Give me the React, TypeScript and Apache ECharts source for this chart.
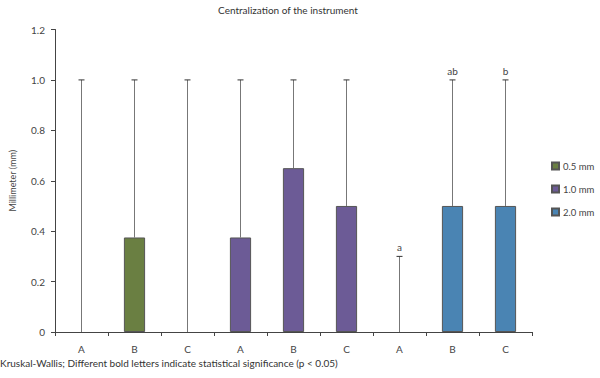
import React, { useEffect, useRef } from "react";
import * as echarts from "echarts";

// Category labels along the x axis (three instruments per group)
const categories = ["A", "B", "C", "A", "B", "C", "A", "B", "C"];

// Median values per group (null where the group does not apply or the median is zero)
const series05 = [null, 0.375, null, null, null, null, null, null, null];
const series10 = [null, null, null, 0.375, 0.65, 0.5, null, null, null];
const series20 = [null, null, null, null, null, null, null, 0.5, 0.5];

// Upper whisker for each category
const upperValues = [1.0, 1.0, 1.0, 1.0, 1.0, 1.0, 0.3, 1.0, 1.0];

// Significance letters above whiskers
const sigLetters = ["", "", "", "", "", "", "a", "ab", "b"];

const seriesNames = ["0.5 mm", "1.0 mm", "2.0 mm"];
const seriesColors = ["#6a7f42", "#6c5b96", "#4a84b3"];

const FONT = "Lato";

export default function App() {
  const ref = useRef<HTMLDivElement>(null);

  useEffect(() => {
    document.body.style.margin = "0";
    if (!ref.current) return;
    const chart = echarts.init(ref.current, undefined, { renderer: "svg" });

    const baseValues = categories.map((_, i) => {
      const v = series05[i] ?? series10[i] ?? series20[i];
      return v ?? 0;
    });

    const whiskerData = categories.map((_, i) => [i, baseValues[i], upperValues[i]]);

    const barSeries = [series05, series10, series20].map((d, k) => ({
      name: seriesNames[k],
      type: "bar",
      stack: "all",
      barWidth: "40%",
      data: d,
      itemStyle: { color: seriesColors[k], borderColor: "#555", borderWidth: 1 },
      z: 3,
    }));

    const option = {
      animation: false,
      textStyle: { fontFamily: FONT },
      title: {
        text: "Centralization of the instrument",
        left: 283,
        textAlign: "center",
        top: 0,
        textStyle: { fontSize: 10, fontWeight: "normal", color: "#333", fontFamily: FONT },
      },
      legend: {
        orient: "vertical",
        left: 551,
        top: 161,
        itemWidth: 7,
        itemHeight: 7,
        itemGap: 13,
        icon: "rect",
        padding: 0,
        data: seriesNames,
        textStyle: { fontSize: 9.5, color: "#444", fontFamily: FONT, padding: [0, 0, 0, -1] },
      },
      grid: { left: 45, right: 68, top: 29.5, bottom: 46 },
      xAxis: {
        type: "category",
        data: categories,
        boundaryGap: true,
        axisLine: { lineStyle: { color: "#444", width: 1 } },
        axisTick: { show: true, interval: 0, length: 4, lineStyle: { color: "#444" } },
        axisLabel: { color: "#444", fontSize: 10, margin: 12, fontFamily: FONT },
      },
      yAxis: {
        type: "value",
        min: 0,
        max: 1.2,
        interval: 0.2,
        name: "Millimeter (mm)",
        nameLocation: "middle",
        nameGap: 38,
        nameTextStyle: { fontSize: 9, color: "#444", fontFamily: FONT },
        axisLine: { show: true, lineStyle: { color: "#444", width: 1 } },
        axisTick: { show: true, length: 4, lineStyle: { color: "#444" } },
        splitLine: { show: false },
        axisLabel: {
          color: "#444",
          fontSize: 10,
          margin: 10,
          fontFamily: FONT,
          formatter: (v: number) => (v === 0 ? "0" : v.toFixed(1)),
        },
      },
      series: [
        ...barSeries,
        {
          type: "custom",
          z: 2,
          data: whiskerData,
          renderItem: (params: any, api: any) => {
            const x = api.value(0);
            const low = api.coord([x, api.value(1)]);
            const high = api.coord([x, api.value(2)]);
            const label = sigLetters[params.dataIndex];
            const half = 3;
            const children: any[] = [
              {
                type: "line",
                shape: { x1: low[0], y1: low[1], x2: high[0], y2: high[1] },
                style: { stroke: "#777", lineWidth: 1 },
              },
              {
                type: "line",
                shape: { x1: high[0] - half, y1: high[1], x2: high[0] + half, y2: high[1] },
                style: { stroke: "#333", lineWidth: 1 },
              },
            ];
            if (label) {
              children.push({
                type: "text",
                style: {
                  text: label,
                  x: high[0],
                  y: high[1] - 4,
                  textAlign: "center",
                  textVerticalAlign: "bottom",
                  fontSize: 10,
                  fontFamily: FONT,
                  fill: "#444",
                },
              });
            }
            return { type: "group", children };
          },
        },
      ],
      graphic: [
        {
          type: "text",
          left: 0,
          top: 358,
          style: {
            text: "Kruskal-Wallis; Different bold letters indicate statistical significance (p < 0.05)",
            fontSize: 10,
            fontFamily: FONT,
            fill: "#333",
          },
        },
      ],
    };

    chart.setOption(option as any);
    return () => chart.dispose();
  }, []);

  return <div ref={ref} style={{ width: 600, height: 378 }} />;
}
